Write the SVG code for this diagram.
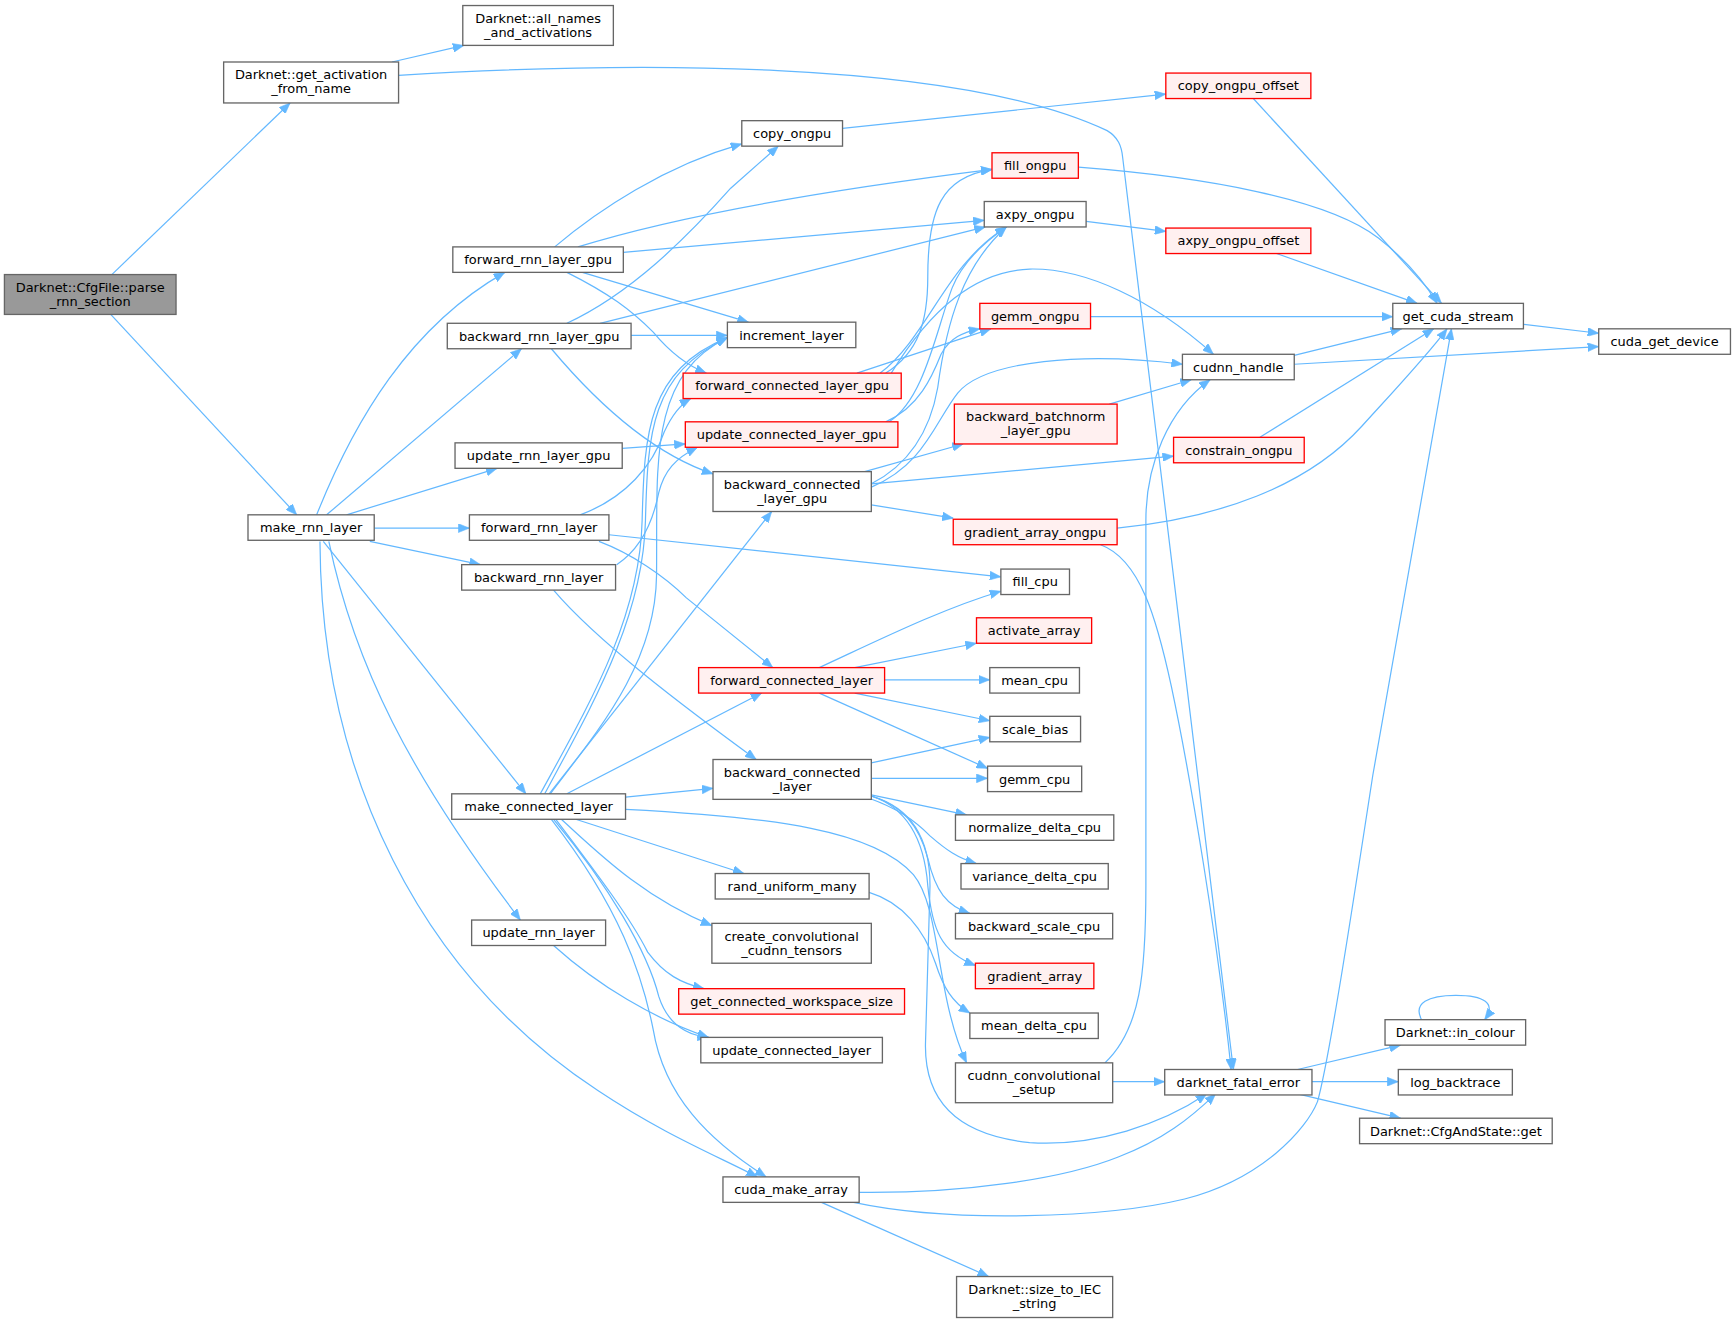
<svg xmlns="http://www.w3.org/2000/svg" width="1736" height="1324" viewBox="0 0 1736 1324">
<style>
.n rect{fill:#ffffff;stroke:#666666;stroke-width:1.2}
.r rect{fill:#fff0f0;stroke:#ff0000;stroke-width:1.2}
.g rect{fill:#999999;stroke:#666666;stroke-width:1.2}
text{font-family:"DejaVu Sans","Liberation Sans",sans-serif;font-size:11.7px;text-anchor:middle;fill:#000000}
#edges path{fill:none;stroke:#63b8ff;stroke-width:1.1;marker-end:url(#a)}
</style>
<defs>
<marker id="a" viewBox="0 0 10 8" refX="10" refY="4" markerWidth="10" markerHeight="8" orient="auto" markerUnits="userSpaceOnUse">
<path d="M0,0 L10,4 L0,8 z" fill="#63b8ff" stroke="#63b8ff" stroke-width="0.5"/>
</marker>
</defs>
<rect x="0" y="0" width="1736" height="1324" fill="#ffffff"/>
<g transform="scale(1.10714)">
<g id="edges">
<path d="M101,248 L262,93"/>
<path d="M100,284 L268,465"/>
<path d="M354,56 L419,41"/>
<path d="M360,68 C560,56 860,52 1000,118 C1010,124 1013,132 1014,142 L1114,966"/>
<path d="M761,116 L1053,85"/>
<path d="M1132,89 L1302,274"/>
<path d="M974,151 C1090,160 1200,180 1245,215 C1268,233 1285,252 1298,274"/>
<path d="M981,200 L1053,209"/>
<path d="M1153,229 L1280,274"/>
<path d="M985,286 L1258,286"/>
<path d="M1376,293 L1444,301"/>
<path d="M1169,321 L1266,297"/>
<path d="M1169,329 L1444,313"/>
<path d="M1138,395 L1295,297"/>
<path d="M1009,477 C1100,468 1180,440 1230,385 C1260,352 1290,320 1307,297"/>
<path d="M994,492 C1030,505 1045,560 1058,620 C1075,700 1100,850 1112,966"/>
<path d="M998,960 C1030,930 1035,880 1035,800 L1035,470 C1035,420 1055,370 1093,343"/>
<path d="M776,1077 C870,1078 960,1065 1010,1045 C1050,1030 1075,1010 1098,988"/>
<path d="M787,719 C825,730 840,760 840,800 L836,940 C834,990 860,1025 930,1032 C990,1036 1050,1015 1090,988"/>
<path d="M1005,977 L1052,977"/>
<path d="M1172,966 L1265,944"/>
<path d="M1185,977 L1263,977"/>
<path d="M1172,988 L1265,1010"/>
<path d="M1284,921 C1276,906 1290,899 1315,899 C1340,899 1352,906 1341,921"/>
<path d="M771,1086 C860,1105 1000,1100 1070,1083 C1140,1065 1180,1020 1190,995 C1200,960 1220,830 1240,700 L1311,297"/>
<path d="M742,1086 L893,1153"/>
<path d="M286,465 C320,380 370,295 456,246"/>
<path d="M295,465 L471,315"/>
<path d="M313,465 L449,423"/>
<path d="M338,477 L424,477"/>
<path d="M334,489 L434,510"/>
<path d="M292,489 L475,717"/>
<path d="M297,489 C320,600 370,700 470,831"/>
<path d="M289,489 C290,700 380,880 540,985 C600,1025 650,1045 684,1063"/>
<path d="M501,223 C540,190 600,150 670,130"/>
<path d="M522,223 C580,205 680,180 896,153"/>
<path d="M563,228 L889,199"/>
<path d="M526,246 L676,291"/>
<path d="M512,246 C550,265 570,280 590,300 C605,318 620,330 638,337"/>
<path d="M512,292 C570,265 620,215 660,170 L703,132"/>
<path d="M542,292 L890,205"/>
<path d="M570,303 L657,303"/>
<path d="M498,315 C540,365 590,410 644,428"/>
<path d="M562,405 L619,401"/>
<path d="M524,465 C565,450 590,420 600,390 C607,375 615,365 624,360"/>
<path d="M550,483 L904,521"/>
<path d="M541,489 C570,500 600,520 620,540 L698,603"/>
<path d="M557,510 C580,495 590,470 595,445 C600,425 610,414 630,404"/>
<path d="M500,533 C540,580 620,640 683,686"/>
<path d="M488,717 C530,640 578,560 580,470 C582,390 585,335 657,305"/>
<path d="M492,717 C533,640 581,560 583,470 C585,390 588,338 657,305"/>
<path d="M497,717 C540,660 592,600 593,520 C594,420 585,340 657,305"/>
<path d="M496,717 L697,462"/>
<path d="M512,717 L688,626"/>
<path d="M565,720 L644,712"/>
<path d="M565,731 C700,738 790,750 825,790 C850,820 845,900 873,960"/>
<path d="M520,740 L672,789"/>
<path d="M507,740 C540,770 580,810 643,836"/>
<path d="M502,740 C540,790 570,830 585,860 C600,880 615,888 636,893"/>
<path d="M500,740 C550,800 585,860 595,900 C603,925 620,935 640,937"/>
<path d="M498,740 C560,820 580,880 590,930 C600,990 640,1030 692,1063"/>
<path d="M500,854 C540,890 590,920 640,937"/>
<path d="M800,337 C830,318 838,290 838,250 C838,190 850,160 896,153"/>
<path d="M774,337 L895,297"/>
<path d="M795,337 C825,315 845,270 870,240 C885,222 895,214 909,205"/>
<path d="M805,337 C840,280 880,245 930,243 C980,242 1040,270 1096,320"/>
<path d="M800,381 C830,368 842,340 850,320 C858,305 870,300 885,297"/>
<path d="M803,381 C835,360 845,300 860,260 C870,235 890,218 909,205"/>
<path d="M787,437 C820,420 840,390 847,350 C855,290 870,240 909,205"/>
<path d="M787,440 C835,420 845,380 865,355 C890,325 980,318 1068,329"/>
<path d="M781,426 L870,401"/>
<path d="M787,437 L1060,412"/>
<path d="M787,456 L861,468"/>
<path d="M740,603 C790,580 850,550 904,534"/>
<path d="M772,603 L882,581"/>
<path d="M799,614 L894,614"/>
<path d="M772,626 L894,651"/>
<path d="M740,626 L892,694"/>
<path d="M787,689 L894,666"/>
<path d="M787,703 L892,703"/>
<path d="M787,718 L873,736"/>
<path d="M785,721 C810,730 825,740 840,755 C855,768 865,775 882,780"/>
<path d="M787,719 C815,728 830,745 838,775 C845,805 855,818 876,825"/>
<path d="M787,719 C820,730 835,760 838,800 C842,840 850,860 881,872"/>
<path d="M785,806 C815,815 835,840 845,870 C852,892 860,905 876,915"/>
<path d="M1002,365 L1076,343"/>
</g>
<g id="parse_rnn_section" class="g"><rect x="4" y="248" width="155" height="36"/><text x="81.5" y="263.5">Darknet::CfgFile::parse</text><text x="81.5" y="276.3">_rnn_section</text></g>
<g id="get_activation_from_name" class="n"><rect x="202" y="56" width="158" height="37"/><text x="281" y="71.5">Darknet::get_activation</text><text x="281" y="84.3">_from_name</text></g>
<g id="all_names_and_activations" class="n"><rect x="418" y="5" width="136" height="36"/><text x="486" y="20.5">Darknet::all_names</text><text x="486" y="33.3">_and_activations</text></g>
<g id="copy_ongpu" class="n"><rect x="670" y="109" width="91" height="23"/><text x="715.5" y="124.7">copy_ongpu</text></g>
<g id="copy_ongpu_offset" class="r"><rect x="1053" y="66" width="131" height="23"/><text x="1118.5" y="81.7">copy_ongpu_offset</text></g>
<g id="fill_ongpu" class="r"><rect x="896" y="138" width="78" height="23"/><text x="935" y="153.7">fill_ongpu</text></g>
<g id="axpy_ongpu" class="n"><rect x="889" y="182" width="92" height="23"/><text x="935" y="197.7">axpy_ongpu</text></g>
<g id="axpy_ongpu_offset" class="r"><rect x="1053" y="206" width="131" height="23"/><text x="1118.5" y="221.7">axpy_ongpu_offset</text></g>
<g id="forward_rnn_layer_gpu" class="n"><rect x="409" y="223" width="154" height="23"/><text x="486" y="238.7">forward_rnn_layer_gpu</text></g>
<g id="get_cuda_stream" class="n"><rect x="1258" y="274" width="118" height="23"/><text x="1317" y="289.7">get_cuda_stream</text></g>
<g id="gemm_ongpu" class="r"><rect x="885" y="274" width="100" height="23"/><text x="935" y="289.7">gemm_ongpu</text></g>
<g id="increment_layer" class="n"><rect x="657" y="291" width="116" height="23"/><text x="715" y="306.7">increment_layer</text></g>
<g id="backward_rnn_layer_gpu" class="n"><rect x="404" y="292" width="166" height="23"/><text x="487" y="307.7">backward_rnn_layer_gpu</text></g>
<g id="cuda_get_device" class="n"><rect x="1444" y="297" width="119" height="23"/><text x="1503.5" y="312.7">cuda_get_device</text></g>
<g id="cudnn_handle" class="n"><rect x="1068" y="320" width="101" height="23"/><text x="1118.5" y="335.7">cudnn_handle</text></g>
<g id="forward_connected_layer_gpu" class="r"><rect x="617" y="337" width="197" height="23"/><text x="715.5" y="352.7">forward_connected_layer_gpu</text></g>
<g id="backward_batchnorm_layer_gpu" class="r"><rect x="862" y="365" width="147" height="36"/><text x="935.5" y="380.5">backward_batchnorm</text><text x="935.5" y="393.3">_layer_gpu</text></g>
<g id="update_connected_layer_gpu" class="r"><rect x="619" y="381" width="192" height="23"/><text x="715" y="396.7">update_connected_layer_gpu</text></g>
<g id="constrain_ongpu" class="r"><rect x="1060" y="395" width="118" height="23"/><text x="1119" y="410.7">constrain_ongpu</text></g>
<g id="update_rnn_layer_gpu" class="n"><rect x="411" y="400" width="151" height="23"/><text x="486.5" y="415.7">update_rnn_layer_gpu</text></g>
<g id="backward_connected_layer_gpu" class="n"><rect x="644" y="426" width="143" height="36"/><text x="715.5" y="441.5">backward_connected</text><text x="715.5" y="454.3">_layer_gpu</text></g>
<g id="make_rnn_layer" class="n"><rect x="224" y="465" width="114" height="23"/><text x="281" y="480.7">make_rnn_layer</text></g>
<g id="forward_rnn_layer" class="n"><rect x="424" y="465" width="126" height="23"/><text x="487" y="480.7">forward_rnn_layer</text></g>
<g id="gradient_array_ongpu" class="r"><rect x="861" y="469" width="148" height="23"/><text x="935" y="484.7">gradient_array_ongpu</text></g>
<g id="backward_rnn_layer" class="n"><rect x="417" y="510" width="139" height="23"/><text x="486.5" y="525.7">backward_rnn_layer</text></g>
<g id="fill_cpu" class="n"><rect x="904" y="514" width="62" height="23"/><text x="935" y="529.7">fill_cpu</text></g>
<g id="activate_array" class="r"><rect x="882" y="558" width="104" height="23"/><text x="934" y="573.7">activate_array</text></g>
<g id="forward_connected_layer" class="r"><rect x="631" y="603" width="168" height="23"/><text x="715" y="618.7">forward_connected_layer</text></g>
<g id="mean_cpu" class="n"><rect x="894" y="603" width="81" height="23"/><text x="934.5" y="618.7">mean_cpu</text></g>
<g id="scale_bias" class="n"><rect x="894" y="647" width="82" height="23"/><text x="935" y="662.7">scale_bias</text></g>
<g id="backward_connected_layer" class="n"><rect x="644" y="686" width="143" height="36"/><text x="715.5" y="701.5">backward_connected</text><text x="715.5" y="714.3">_layer</text></g>
<g id="gemm_cpu" class="n"><rect x="892" y="692" width="85" height="23"/><text x="934.5" y="707.7">gemm_cpu</text></g>
<g id="make_connected_layer" class="n"><rect x="408" y="717" width="157" height="23"/><text x="486.5" y="732.7">make_connected_layer</text></g>
<g id="normalize_delta_cpu" class="n"><rect x="863" y="736" width="143" height="23"/><text x="934.5" y="751.7">normalize_delta_cpu</text></g>
<g id="variance_delta_cpu" class="n"><rect x="868" y="780" width="133" height="23"/><text x="934.5" y="795.7">variance_delta_cpu</text></g>
<g id="rand_uniform_many" class="n"><rect x="646" y="789" width="139" height="23"/><text x="715.5" y="804.7">rand_uniform_many</text></g>
<g id="backward_scale_cpu" class="n"><rect x="863" y="825" width="142" height="23"/><text x="934" y="840.7">backward_scale_cpu</text></g>
<g id="update_rnn_layer" class="n"><rect x="426" y="831" width="121" height="23"/><text x="486.5" y="846.7">update_rnn_layer</text></g>
<g id="create_convolutional_cudnn_tensors" class="n"><rect x="643" y="834" width="144" height="36"/><text x="715" y="849.5">create_convolutional</text><text x="715" y="862.3">_cudnn_tensors</text></g>
<g id="gradient_array" class="r"><rect x="881" y="870" width="107" height="23"/><text x="934.5" y="885.7">gradient_array</text></g>
<g id="get_connected_workspace_size" class="r"><rect x="613" y="893" width="204" height="23"/><text x="715" y="908.7">get_connected_workspace_size</text></g>
<g id="mean_delta_cpu" class="n"><rect x="876" y="915" width="116" height="23"/><text x="934" y="930.7">mean_delta_cpu</text></g>
<g id="in_colour" class="n"><rect x="1251" y="921" width="127" height="23"/><text x="1314.5" y="936.7">Darknet::in_colour</text></g>
<g id="update_connected_layer" class="n"><rect x="633" y="937" width="164" height="23"/><text x="715" y="952.7">update_connected_layer</text></g>
<g id="cudnn_convolutional_setup" class="n"><rect x="863" y="960" width="142" height="36"/><text x="934" y="975.5">cudnn_convolutional</text><text x="934" y="988.3">_setup</text></g>
<g id="darknet_fatal_error" class="n"><rect x="1052" y="966" width="133" height="23"/><text x="1118.5" y="981.7">darknet_fatal_error</text></g>
<g id="log_backtrace" class="n"><rect x="1263" y="966" width="103" height="23"/><text x="1314.5" y="981.7">log_backtrace</text></g>
<g id="CfgAndState_get" class="n"><rect x="1228" y="1010" width="174" height="23"/><text x="1315" y="1025.7">Darknet::CfgAndState::get</text></g>
<g id="cuda_make_array" class="n"><rect x="653" y="1063" width="123" height="23"/><text x="714.5" y="1078.7">cuda_make_array</text></g>
<g id="size_to_IEC_string" class="n"><rect x="864" y="1153" width="141" height="37"/><text x="934.5" y="1168.5">Darknet::size_to_IEC</text><text x="934.5" y="1181.3">_string</text></g>
</g>
</svg>
